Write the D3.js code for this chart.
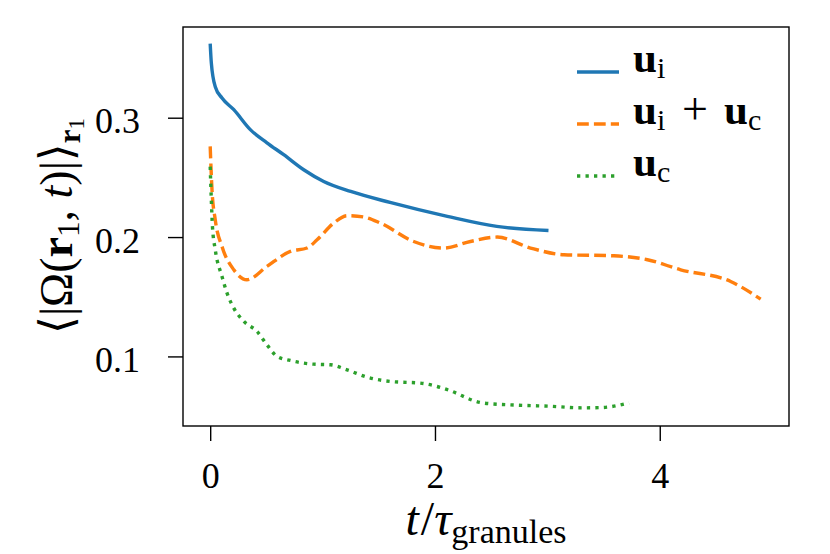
<!DOCTYPE html>
<html>
<head>
<meta charset="utf-8">
<script src="https://cdn.jsdelivr.net/npm/d3@7"></script>
<style>
  body { margin: 0; background: #fff; }
  svg { display: block; font-family: "Liberation Serif", "DejaVu Serif", serif; }
</style>
</head>
<body>
<svg id="chart" width="830" height="554"></svg>
<script>
// values
var tIonly = [0, 0.01, 0.045, 0.105, 0.21, 0.357, 0.505, 0.654, 0.832, 1.01, 1.25, 1.60, 2.11, 2.55, 3.01];
var omegaIonly = [0.362, 0.346, 0.326, 0.3165, 0.3067, 0.290, 0.279, 0.269, 0.2564, 0.2466, 0.2382, 0.2290, 0.2173, 0.2089, 0.2055];

var tBoth = [0, 0.016, 0.045, 0.105, 0.21, 0.327, 0.505, 0.713, 0.862, 0.951, 1.099, 1.218, 1.366, 1.515, 1.811, 2.078, 2.316, 2.554, 2.85, 3.147, 3.592, 3.89, 4.186, 4.631, 4.898];
var omegaBoth = [0.276, 0.2396, 0.2145, 0.192, 0.1726, 0.1642, 0.1754, 0.188, 0.1908, 0.1977, 0.2117, 0.2179, 0.2168, 0.2117, 0.1963, 0.1908, 0.1963, 0.200, 0.1908, 0.1852, 0.1843, 0.181, 0.1726, 0.1628, 0.148];

var tConly = [0, 0.01, 0.02, 0.045, 0.105, 0.15, 0.21, 0.30, 0.417, 0.505, 0.595, 0.713, 0.92, 1.07, 1.218, 1.396, 1.604, 1.871, 2.02, 2.123, 2.42, 2.717, 3.013, 3.31, 3.49, 3.726];
var omegaConly = [0.259, 0.2313, 0.2089, 0.1894, 0.167, 0.153, 0.1405, 0.1293, 0.1209, 0.1097, 0.1, 0.0966, 0.0935, 0.093, 0.0888, 0.0826, 0.079, 0.0776, 0.0748, 0.0717, 0.0611, 0.0592, 0.0583, 0.0569, 0.0572, 0.0611];

var xTicks = [0, 2, 4];
var yTicks = [0.1, 0.2, 0.3];
var seriesNames = ["i", "i+c", "c"];

var plotLeft = 183, plotRight = 789, plotTop = 27, plotBottom = 426;
var svg = d3.select('#chart');

var x = d3.scaleLinear().domain([-0.242, 5.15]).range([plotLeft, plotRight]);
var y = d3.scaleLinear().domain([0.0417, 0.376]).range([plotBottom, plotTop]);

var series = [
  {name: seriesNames[0], t: tIonly, v: omegaIonly, color: '#1f77b4', dash: null},
  {name: seriesNames[1], t: tBoth, v: omegaBoth, color: '#ff7f0e', dash: '11.8,5.1'},
  {name: seriesNames[2], t: tConly, v: omegaConly, color: '#2ca02c', dash: '3.3,5.2'}
];

var line = d3.line()
  .x(function(d){ return x(d[0]); })
  .y(function(d){ return y(d[1]); })
  .curve(d3.curveMonotoneX);

// curves
series.forEach(function(s){
  var pts = s.t.map(function(t, i){ return [t, s.v[i]]; });
  svg.append('path')
    .attr('d', line(pts))
    .attr('fill', 'none')
    .attr('stroke', s.color)
    .attr('stroke-width', 3.4)
    .attr('stroke-dasharray', s.dash);
});

// axes
var xAxis = svg.append('g')
  .attr('transform', 'translate(0,' + plotBottom + ')')
  .call(d3.axisBottom(x).tickValues(xTicks).tickSize(15).tickSizeOuter(0).tickFormat(d3.format('d')));
var yAxis = svg.append('g')
  .attr('transform', 'translate(' + plotLeft + ',0)')
  .call(d3.axisLeft(y).tickValues(yTicks).tickSize(15).tickSizeOuter(0).tickPadding(28).tickFormat(d3.format('.1f')));

[xAxis, yAxis].forEach(function(a){
  a.select('.domain').remove();
  a.selectAll('line').attr('stroke', '#000').attr('stroke-width', 1.4);
  a.selectAll('text').attr('fill', '#000').style('font-size', '36px')
    .style('font-family', '"Liberation Serif", serif');
});
xAxis.selectAll('text').attr('dy', null).attr('y', 62);
yAxis.selectAll('text').attr('dy', null).attr('y', 15);

svg.append('rect')
  .attr('x', plotLeft).attr('y', plotTop)
  .attr('width', plotRight - plotLeft).attr('height', plotBottom - plotTop)
  .attr('fill', 'none').attr('stroke', '#000').attr('stroke-width', 1.4);

// x label
var xl = svg.append('text')
  .attr('x', 486).attr('y', 535)
  .attr('text-anchor', 'middle')
  .style('font-size', '48px');
xl.append('tspan').style('font-style', 'italic').text('t');
xl.append('tspan').attr('dx', 2).text('/');
xl.append('tspan').style('font-style', 'italic').text('τ');
xl.append('tspan').attr('dy', 8).style('font-size', '34px').text('granules');

// y label
var yl = svg.append('text')
  .attr('transform', 'translate(72,226) rotate(-90)')
  .attr('text-anchor', 'middle')
  .style('font-size', '46px');
yl.append('tspan').text('⟨|Ω(');
yl.append('tspan').style('font-weight', 'bold').text('r');
yl.append('tspan').attr('dy', 7).style('font-size', '31px').text('1');
yl.append('tspan').attr('dy', -7).text(', ');
yl.append('tspan').style('font-style', 'italic').text('t');
yl.append('tspan').text(')|⟩');
yl.append('tspan').attr('dy', 8).style('font-size', '31px').style('font-weight', 'bold').text('r');
yl.append('tspan').attr('dy', 4).style('font-size', '23px').text('1');

// legend
var legend = svg.append('g');
series.forEach(function(s, i){
  var ly = 72 + i * 52;
  legend.append('line')
    .attr('x1', 577).attr('x2', 619)
    .attr('y1', ly).attr('y2', ly)
    .attr('stroke', s.color).attr('stroke-width', 3.4)
    .attr('stroke-dasharray', s.dash);
  var t = legend.append('text')
    .attr('y', ly)
    .style('font-size', '43px');
  var parts = s.name.split('+');
  parts.forEach(function(p, j){
    var x0 = 633 + j * 91;
    if (j > 0) t.append('tspan').attr('x', 682).attr('dy', -6).style('font-size', '46px').text('+');
    t.append('tspan').attr('x', x0).style('font-weight', 'bold').text('u');
    t.append('tspan').attr('x', x0 + 24).attr('dy', 6).style('font-size', '30px').text(p);
  });
});
</script>
</body>
</html>
